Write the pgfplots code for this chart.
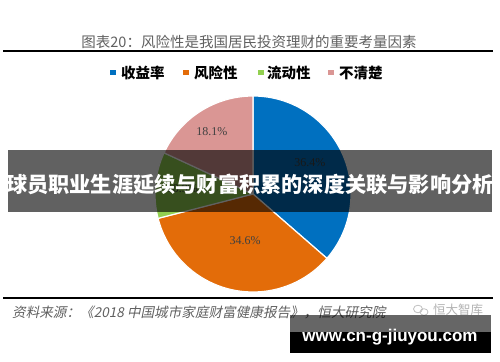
\documentclass[border=0pt]{standalone}
\usepackage{pgfplots}
\pgfplotsset{compat=1.18}
\usepackage{pgfplotstable}
\usepackage{fontspec}
\setmainfont{Liberation Serif}
\newfontfamily\cjk{Noto Sans CJK SC}
\newfontfamily\cjksl{Noto Sans CJK SC}[FakeSlant=0.2]
\newfontfamily\wm{Liberation Sans}
\definecolor{cblue}{HTML}{0070C0}
\definecolor{corange}{HTML}{E36C09}
\definecolor{cgreen}{HTML}{92D050}
\definecolor{cpink}{HTML}{DA9694}
\definecolor{ctitle}{HTML}{606060}
\definecolor{clab}{HTML}{404040}
\pgfplotstableread{
name val
A 36.4
B 34.6
C 10.9
D 18.1
}\piedata
\begin{document}
\begin{tikzpicture}
\path[use as bounding box] (0,0) rectangle (500bp,362bp);
\pgfplotstablegetelem{0}{val}\of\piedata \let\vA\pgfplotsretval
\pgfplotstablegetelem{1}{val}\of\piedata \let\vB\pgfplotsretval
\pgfplotstablegetelem{2}{val}\of\piedata \let\vC\pgfplotsretval
\pgfplotstablegetelem{3}{val}\of\piedata \let\vD\pgfplotsretval
\pgfmathsetmacro\aA{90}
\pgfmathsetmacro\aB{\aA-3.6*\vA}
\pgfmathsetmacro\aC{\aB-3.6*\vB}
\pgfmathsetmacro\aD{\aC-3.6*\vC}
\pgfmathsetmacro\aE{\aD-3.6*\vD}
\begin{scope}[x=1bp,y=-1bp,shift={(0,362bp)}]
  % title
  \node[font=\cjk\fontsize{14.5bp}{16bp}\selectfont, text=ctitle, anchor=center] at (249,42) {图表20：风险性是我国居民投资理财的重要考量因素};
  \draw[black, line width=1.8bp] (3,51) -- (493,51);
  % legend
  \fill[cblue] (110,70) rectangle (115.5,75.5);
  \node[font=\cjk\bfseries\fontsize{14.5bp}{16bp}\selectfont, anchor=west, inner sep=0pt] at (121,73) {收益率};
  \fill[corange] (183,70) rectangle (188.5,75.5);
  \node[font=\cjk\bfseries\fontsize{14.5bp}{16bp}\selectfont, anchor=west, inner sep=0pt] at (194,73) {风险性};
  \fill[cgreen] (258,70) rectangle (263.5,75.5);
  \node[font=\cjk\bfseries\fontsize{14.5bp}{16bp}\selectfont, anchor=west, inner sep=0pt] at (267,73) {流动性};
  \fill[cpink] (328,70) rectangle (333.5,75.5);
  \node[font=\cjk\bfseries\fontsize{14.5bp}{16bp}\selectfont, anchor=west, inner sep=0pt] at (339,73) {不清楚};
\end{scope}
\begin{axis}[at={(253bp,168bp)}, anchor=center, scale only axis, width=196bp, height=196bp,
  xmin=-1, xmax=1, ymin=-1, ymax=1, axis lines=none, clip=false]
  \fill[cblue, draw=white, line width=1.2bp] (axis cs:0,0) -- +(\aA:98bp) arc[start angle=\aA, end angle=\aB, radius=98bp] -- cycle;
  \fill[corange, draw=white, line width=1.2bp] (axis cs:0,0) -- +(\aB:98bp) arc[start angle=\aB, end angle=\aC, radius=98bp] -- cycle;
  \fill[cgreen, draw=white, line width=1.2bp] (axis cs:0,0) -- +(\aC:98bp) arc[start angle=\aC, end angle=\aD, radius=98bp] -- cycle;
  \fill[cpink, draw=white, line width=1.2bp] (axis cs:0,0) -- +(\aD:98bp) arc[start angle=\aD, end angle=\aE, radius=98bp] -- cycle;
  \node[font=\fontsize{12bp}{14bp}\selectfont, text=clab] at (axis cs:0.58,0.32) {\vA\%};
  \node[font=\fontsize{12bp}{14bp}\selectfont, text=clab] at (axis cs:-0.08,-0.48) {\vB\%};
  \node[font=\fontsize{12bp}{14bp}\selectfont, text=clab] at (axis cs:-0.72,0.06) {\vC\%};
  \node[font=\fontsize{12bp}{14bp}\selectfont, text=clab] at (axis cs:-0.42,0.64) {\vD\%};
\end{axis}
\begin{scope}[x=1bp,y=-1bp,shift={(0,362bp)}]
  \draw[black, line width=2bp] (3,298) -- (493,298);
  \node[font=\cjksl\fontsize{13.6bp}{15bp}\selectfont, text=ctitle, anchor=west, inner sep=0pt] at (12,312) {资料来源：《2018 中国城市家庭财富健康报告》，恒大研究院};
  \draw[gray!50, line width=0.8bp] (418,309) ellipse (4.5 and 3.8);
  \draw[gray!50, line width=0.8bp] (424,312) ellipse (4 and 3.3);
  \node[font=\cjk\fontsize{12.5bp}{14bp}\selectfont, text=gray!60, anchor=west, inner sep=0pt] at (433,310) {恒大智库};
  % banner
  \fill[black, opacity=0.62] (8,150) rectangle (492,212);
  \node[font=\cjk\bfseries\fontsize{21.2bp}{23bp}\selectfont, text=white, anchor=center] at (250,184) {球员职业生涯延续与财富积累的深度关联与影响分析};
  % watermark
  \fill[black, opacity=0.6] (290,315) rectangle (491,332);
  \fill[black] (290,332) rectangle (491,353);
  \node[font=\wm\bfseries\fontsize{17bp}{18bp}\selectfont, text=white, anchor=center] at (390,337.5) {www.cn-g-jiuyou.com};
\end{scope}
\end{tikzpicture}
\end{document}
